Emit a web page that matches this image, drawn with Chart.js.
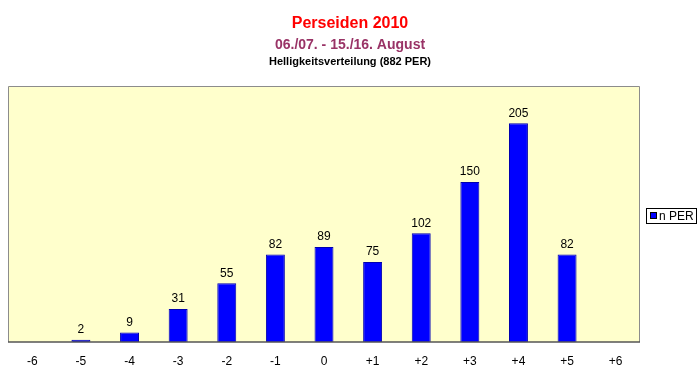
<!DOCTYPE html>
<html>
<head>
<meta charset="utf-8">
<script src="https://cdn.jsdelivr.net/npm/chart.js@4/dist/chart.umd.min.js"></script>
<style>
  html, body { margin: 0; padding: 0; background: #fff; }
  #wrap { width: 700px; height: 378px; }
</style>
</head>
<body>
<div id="wrap"><canvas id="c" width="700" height="378"></canvas></div>
<script>
// Helligkeitsklassen und Anzahl Perseiden je Klasse
const klassen = ['-6', '-5', '-4', '-3', '-2', '-1', '0', '+1', '+2', '+3', '+4', '+5', '+6'];
const nPer = [null, 2, 9, 31, 55, 82, 89, 75, 102, 150, 205, 82, null];
const serienName = 'n PER';

const titel = 'Perseiden 2010';
const untertitel = '06./07. - 15./16. August';
const zeile3 = 'Helligkeitsverteilung (882 PER)';

// Hintergrund, Rahmen, Titel, Werte und Legende
const extras = {
  id: 'extras',
  beforeDatasetsDraw(chart) {
    const { ctx, chartArea: a } = chart;
    ctx.save();
    ctx.fillStyle = '#FFFFCC';
    ctx.fillRect(a.left, a.top, a.right - a.left, a.bottom - a.top);
    ctx.strokeStyle = '#8c8c8c';
    ctx.lineWidth = 1;
    ctx.beginPath();
    ctx.moveTo(a.left + 0.5, a.bottom);
    ctx.lineTo(a.left + 0.5, a.top + 0.5);
    ctx.lineTo(a.right - 0.5, a.top + 0.5);
    ctx.lineTo(a.right - 0.5, a.bottom);
    ctx.stroke();
    ctx.restore();
  },
  afterDatasetsDraw(chart) {
    const { ctx, chartArea: a } = chart;
    ctx.save();
    // Grundlinie
    ctx.strokeStyle = '#555';
    ctx.lineWidth = 1.5;
    ctx.beginPath();
    ctx.moveTo(a.left, a.bottom);
    ctx.lineTo(a.right, a.bottom);
    ctx.stroke();

    // Werte über den Balken
    ctx.fillStyle = '#000';
    ctx.font = '12px Arial, "Liberation Sans", sans-serif';
    ctx.textAlign = 'center';
    ctx.textBaseline = 'bottom';
    chart.getDatasetMeta(0).data.forEach((bar, i) => {
      if (nPer[i] == null) return;
      ctx.fillText(String(nPer[i]), bar.x, bar.y - 4);
    });

    // Titel
    const mx = chart.width / 2;
    ctx.textBaseline = 'middle';
    ctx.font = 'bold 16px Arial, "Liberation Sans", sans-serif';
    ctx.fillStyle = '#FF0000';
    ctx.fillText(titel, mx, 24);
    ctx.font = 'bold 14px Arial, "Liberation Sans", sans-serif';
    ctx.fillStyle = '#993366';
    ctx.fillText(untertitel, mx, 45);
    ctx.font = 'bold 11px Arial, "Liberation Sans", sans-serif';
    ctx.fillStyle = '#000';
    ctx.fillText(zeile3, mx, 62);

    // Legende
    const lx = 646, ly = 208, lw = 50, lh = 15;
    ctx.strokeStyle = '#000';
    ctx.lineWidth = 1;
    ctx.strokeRect(lx + 0.5, ly + 0.5, lw, lh);
    ctx.fillStyle = '#0000FF';
    ctx.fillRect(lx + 4, ly + 4, 7, 7);
    ctx.strokeStyle = '#000';
    ctx.strokeRect(lx + 4.5, ly + 4.5, 6, 6);
    ctx.fillStyle = '#000';
    ctx.font = '12px Arial, "Liberation Sans", sans-serif';
    ctx.textAlign = 'left';
    ctx.fillText(serienName, lx + 13, ly + lh / 2 + 1);
    ctx.restore();
  }
};

new Chart(document.getElementById('c'), {
  type: 'bar',
  data: {
    labels: klassen,
    datasets: [{
      label: serienName,
      data: nPer,
      backgroundColor: '#0000FF',
      borderColor: '#0000B0',
      borderWidth: 1,
      barPercentage: 0.39,
      categoryPercentage: 1
    }]
  },
  options: {
    responsive: false,
    animation: false,
    layout: { padding: { top: 86, left: 8, right: 60, bottom: 0 } },
    plugins: {
      legend: { display: false },
      tooltip: { enabled: false },
      title: { display: false }
    },
    scales: {
      x: {
        grid: { display: false, drawTicks: false },
        border: { display: false },
        afterFit(scale) { scale.height = 36; },
        ticks: {
          color: '#000',
          padding: 12,
          font: { family: 'Arial, "Liberation Sans", sans-serif', size: 12 },
          maxRotation: 0
        }
      },
      y: {
        display: false,
        min: 0,
        max: 240
      }
    }
  },
  plugins: [extras]
});
</script>
</body>
</html>
